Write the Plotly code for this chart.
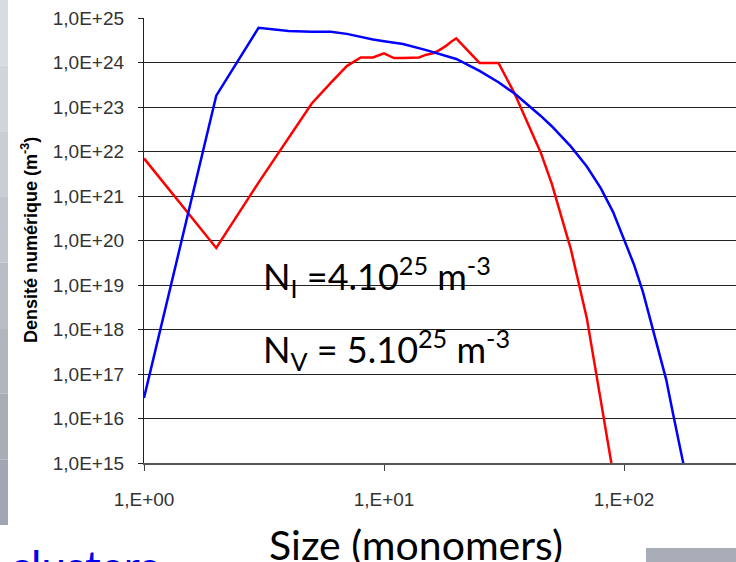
import plotly.graph_objects as go

# ---- data ----
red_size = [1, 2, 3, 4, 5, 6, 7, 8, 9, 10, 11, 12, 13, 14, 15, 16, 17, 18, 19, 20,
            25, 30, 35, 40, 45, 50, 60, 70, 80, 90]
red_density = [7.0e21, 6.8e19, 2.0e21, 2.0e22, 1.2e23, 3.5e23, 8.3e23, 1.3e24, 1.3e24, 1.6e24,
               1.26e24, 1.26e24, 1.26e24, 1.3e24, 1.5e24, 1.6e24, 1.9e24, 2.3e24, 2.9e24, 3.5e24,
               9.8e23, 9.8e23, 2.0e23, 4.0e22, 9.4e21, 1.9e21, 6.5e19, 1.8e18, 2.2e16, 6.0e14]

blue_size = [1, 2, 3, 4, 5, 6, 7, 8, 9, 10, 12, 15, 20, 25, 30, 35, 40, 45, 50,
             60, 70, 80, 90, 100, 110, 120, 130, 140, 150, 160, 170, 180]
blue_density = [2.9e16, 1.8e23, 6.0e24, 5.1e24, 4.9e24, 4.9e24, 4.4e24, 3.7e24, 3.3e24, 3.0e24,
                2.6e24, 1.9e24, 1.2e24, 6.5e23, 3.6e23, 2.0e23, 1.1e23, 6.3e22, 3.7e22,
                1.3e22, 4.6e21, 1.5e21, 4.4e20, 1.1e20, 2.9e19, 6.9e18, 1.35e18, 3.1e17,
                7.4e16, 1.3e16, 2.7e15, 6.0e14]

y_tickvals = [1e15, 1e16, 1e17, 1e18, 1e19, 1e20, 1e21, 1e22, 1e23, 1e24, 1e25]
y_ticktext = ["1,0E+15", "1,0E+16", "1,0E+17", "1,0E+18", "1,0E+19", "1,0E+20",
              "1,0E+21", "1,0E+22", "1,0E+23", "1,0E+24", "1,0E+25"]
x_tickvals = [1, 10, 100]
x_ticktext = ["1,E+00", "1,E+01", "1,E+02"]

# ---- geometry helpers (pixel -> paper) ----
W, H = 736, 562
L, R, T, B = 144, 0, 18, 99
PW, PH = W - L - R, H - T - B


def xp(px):
    return (px - L) / PW


def yp(py):
    return (H - B - py) / PH


fig = go.Figure()
fig.add_trace(go.Scatter(x=red_size, y=red_density, mode="lines",
                         line=dict(color="#ff0000", width=2.5), showlegend=False))
fig.add_trace(go.Scatter(x=blue_size, y=blue_density, mode="lines",
                         line=dict(color="#0000ff", width=2.5), showlegend=False))

shapes = []
# white box behind the annotation text (hides gridlines)
shapes.append(dict(type="rect", xref="paper", yref="paper", x0=xp(263), x1=xp(540),
                   y0=yp(373), y1=yp(252), fillcolor="white", line=dict(width=0),
                   layer="between"))
# grey strip on the left (gradient approximated by bands)
greys = ["#d8dbe1", "#d1d4db", "#c9cdd4", "#c1c5cd", "#b9bdc6", "#b1b5bf",
         "#a9adb8", "#a2a6b2"]
n = len(greys)
for i, c in enumerate(greys):
    shapes.append(dict(type="rect", xref="paper", yref="paper", x0=xp(0), x1=xp(8),
                       y0=yp(525 * (i + 1) / n), y1=yp(525 * i / n), fillcolor=c,
                       line=dict(width=0), layer="below"))
# grey block bottom-right
shapes.append(dict(type="rect", xref="paper", yref="paper", x0=xp(646), x1=xp(736),
                   y0=yp(563), y1=yp(548), fillcolor="#a9adb8", line=dict(width=0),
                   layer="below"))

annotations = [
    dict(text="N<sub>I</sub> =4.10<sup>25</sup> m<sup>-3</sup>", xref="paper", yref="paper",
         x=xp(261), y=yp(276), xanchor="left", yanchor="middle", showarrow=False,
         font=dict(family="Lato", size=36, color="black")),
    dict(text="N<sub>V</sub> = 5.10<sup>25</sup> m<sup>-3</sup>", xref="paper", yref="paper",
         x=xp(261), y=yp(349), xanchor="left", yanchor="middle", showarrow=False,
         font=dict(family="Lato", size=36, color="black")),
    dict(text="<b>Densité numérique (m<sup>-3</sup>)</b>", xref="paper", yref="paper",
         x=xp(30), y=yp(240), xanchor="center", yanchor="middle", textangle=-90,
         showarrow=False, font=dict(family="Liberation Sans, Arial", size=18, color="black")),
    dict(text="Size (monomers)", xref="paper", yref="paper",
         x=xp(416), y=yp(518), xanchor="center", yanchor="top", showarrow=False,
         font=dict(family="Lato", size=41, color="black")),
    dict(text="clusters", xref="paper", yref="paper",
         x=xp(8), y=yp(538), xanchor="left", yanchor="top", showarrow=False,
         font=dict(family="Lato", size=44, color="#0000ee")),
]

fig.update_layout(
    width=W, height=H,
    margin=dict(l=L, r=R, t=T, b=B),
    paper_bgcolor="white", plot_bgcolor="white",
    shapes=shapes, annotations=annotations,
    xaxis=dict(type="log", range=[0, PW / 240], tickvals=x_tickvals, ticktext=x_ticktext,
               showgrid=False, zeroline=False, showline=True, linecolor="#555",
               linewidth=2, ticks="outside", ticklen=6, tickcolor="#444",
               ticklabelstandoff=12,
               tickfont=dict(family="Liberation Sans, Arial", size=19, color="#333")),
    yaxis=dict(type="log", range=[15, 25], tickvals=y_tickvals, ticktext=y_ticktext,
               showgrid=True, gridcolor="#222", gridwidth=1.2, zeroline=False,
               showline=True, linecolor="#222", linewidth=1.3, ticks="outside",
               ticklen=5, tickcolor="#222", ticklabelstandoff=10,
               tickfont=dict(family="Liberation Sans, Arial", size=19, color="#333")),
)

fig.write_html("out.html")
